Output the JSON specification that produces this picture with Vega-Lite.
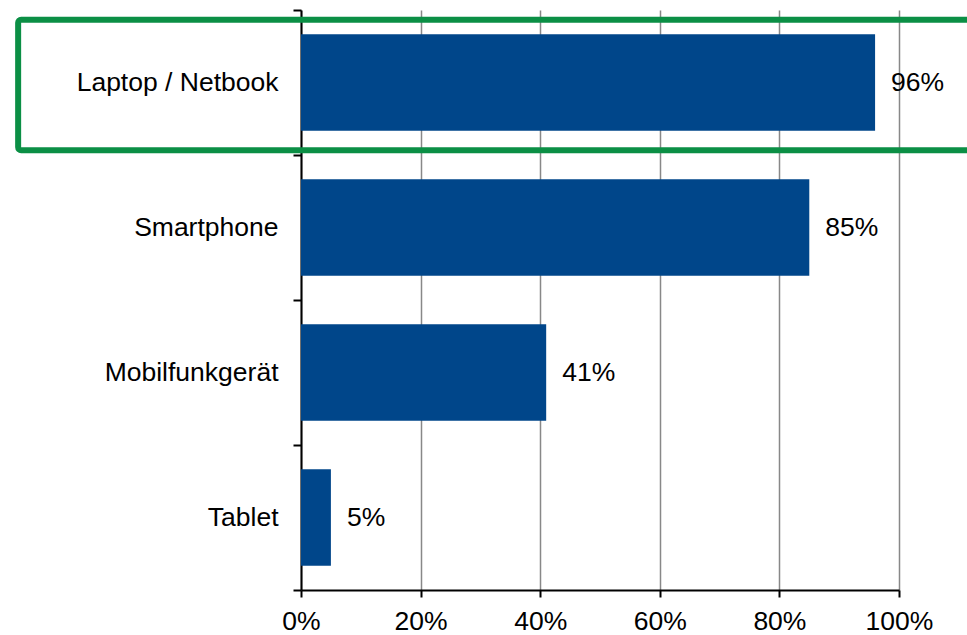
{
  "$schema": "https://vega.github.io/schema/vega-lite/v6.json",
  "autosize": "none",
  "width": 598,
  "height": 580,
  "padding": {"left": 301, "top": 10, "right": 68, "bottom": 45},
  "background": "white",
  "config": {
    "view": {"stroke": null},
    "font": "Liberation Sans"
  },
  "data": {
    "values": [
      {"device": "Laptop / Netbook", "share": 0.96},
      {"device": "Smartphone", "share": 0.85},
      {"device": "Mobilfunkgerät", "share": 0.41},
      {"device": "Tablet", "share": 0.05}
    ]
  },
  "encoding": {
    "y": {
      "field": "device",
      "type": "nominal",
      "sort": null,
      "scale": {"paddingInner": 0, "paddingOuter": 0},
      "axis": {
        "title": null,
        "tickBand": "extent",
        "domainColor": "black",
        "domainWidth": 2,
        "tickColor": "black",
        "tickWidth": 2,
        "tickSize": 8,
        "labelFont": "Liberation Sans",
        "labelFontSize": 26.5,
        "labelColor": "black",
        "labelPadding": 15,
        "labelLimit": 0,
        "grid": false
      }
    }
  },
  "layer": [
    {
      "mark": {"type": "bar", "color": "#00468A", "height": {"band": 0.667}},
      "encoding": {
        "x": {
          "field": "share",
          "type": "quantitative",
          "scale": {"domain": [0, 1], "nice": false, "zero": true},
          "axis": {
            "title": null,
            "values": [0, 0.2, 0.4, 0.6, 0.8, 1],
            "format": ".0%",
            "grid": true,
            "gridColor": "#888888",
            "gridWidth": 1.5,
            "domainColor": "black",
            "domainWidth": 2.2,
            "tickColor": "black",
            "tickWidth": 2,
            "tickSize": 7,
            "labelFont": "Liberation Sans",
            "labelFontSize": 26.5,
            "labelColor": "black",
            "labelPadding": 11,
            "labelFlush": false
          }
        }
      }
    },
    {
      "mark": {"type": "text", "align": "left", "baseline": "middle", "dx": 16, "fontSize": 26.5, "font": "Liberation Sans", "color": "black"},
      "encoding": {
        "x": {"field": "share", "type": "quantitative"},
        "text": {"field": "share", "type": "quantitative", "format": ".0%"}
      }
    },
    {
      "transform": [{"filter": "datum.device === 'Laptop / Netbook'"}],
      "mark": {"type": "rect", "filled": false, "stroke": "#0B8F45", "strokeWidth": 6, "cornerRadius": 3, "height": {"band": 0.9}, "yOffset": 2.5, "clip": false},
      "encoding": {
        "x": {"datum": -0.473, "type": "quantitative"},
        "x2": {"datum": 1.15}
      }
    }
  ]
}
